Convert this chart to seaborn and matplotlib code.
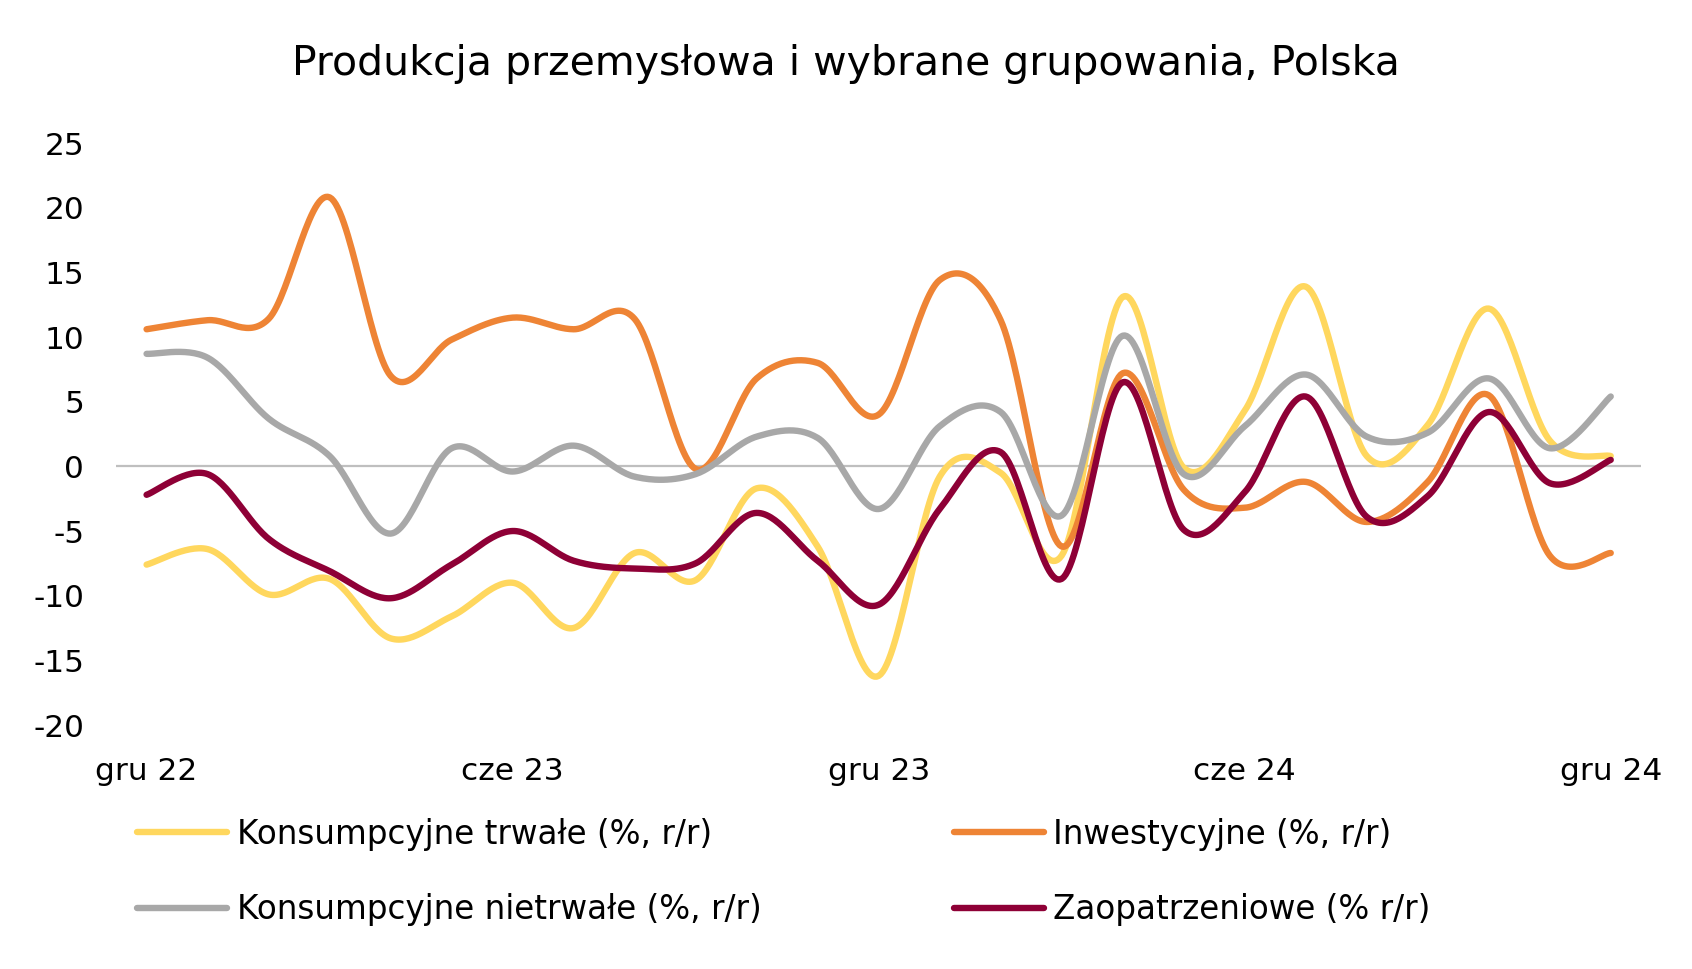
import numpy as np
import pandas as pd
import seaborn as sns
import matplotlib
matplotlib.use("Agg")
import matplotlib.pyplot as plt

# monthly data, gru 22 .. gru 24
months = list(range(25))
tick_pos = [0, 6, 12, 18, 24]
tick_labels = ["gru 22", "cze 23", "gru 23", "cze 24", "gru 24"]

trwale = [-7.6, -6.4, -9.9, -8.7, -13.3, -11.6, -9.0, -12.5, -6.7, -8.8, -1.7, -6.2, -16.2,
          -0.8, -0.5, -6.9, 13.1, -0.1, 4.3, 13.9, 0.8, 3.2, 12.2, 2.0, 0.8]
inwest = [10.6, 11.3, 11.4, 20.8, 7.0, 9.8, 11.5, 10.6, 11.4, -0.2, 6.8, 8.0, 4.0,
          14.4, 11.3, -6.2, 7.2, -1.8, -3.2, -1.2, -4.3, -1.2, 5.5, -6.9, -6.7]
nietrwale = [8.7, 8.4, 3.7, 0.8, -5.2, 1.4, -0.4, 1.6, -0.8, -0.6, 2.3, 2.2, -3.3,
             3.1, 4.2, -3.8, 10.1, -0.6, 3.1, 7.1, 2.3, 2.6, 6.8, 1.4, 5.4]
zaopatrz = [-2.2, -0.6, -5.6, -8.1, -10.2, -7.6, -5.0, -7.3, -7.9, -7.5, -3.6, -7.3, -10.7,
            -3.3, 1.1, -8.7, 6.5, -4.9, -2.0, 5.4, -3.9, -2.3, 4.2, -1.3, 0.5]

series = [
    ("Konsumpcyjne trwałe (%, r/r)", trwale, "#FFD75E"),
    ("Inwestycyjne (%, r/r)", inwest, "#EE8435"),
    ("Konsumpcyjne nietrwałe (%, r/r)", nietrwale, "#A8A8A8"),
    ("Zaopatrzeniowe (% r/r)", zaopatrz, "#8E0036"),
]


def smooth(x, y, n=30):
    # excel-like smoothed line (catmull-rom through the points)
    x = np.asarray(x, float)
    y = np.asarray(y, float)
    px = np.concatenate([[x[0]], x, [x[-1]]])
    py = np.concatenate([[y[0]], y, [y[-1]]])
    xs, ys = [], []
    t = np.linspace(0, 1, n, endpoint=False)
    for i in range(1, len(px) - 2):
        for p, out in ((px, xs), (py, ys)):
            p0, p1, p2, p3 = p[i - 1], p[i], p[i + 1], p[i + 2]
            c1 = p1 + (p2 - p0) / 6
            c2 = p2 - (p3 - p1) / 6
            out.extend((1 - t) ** 3 * p1 + 3 * (1 - t) ** 2 * t * c1
                       + 3 * (1 - t) * t ** 2 * c2 + t ** 3 * p2)
    xs.append(x[-1])
    ys.append(y[-1])
    return np.array(xs), np.array(ys)


sns.set_style("white")
plt.rcParams["font.family"] = ["DejaVu Sans"]
plt.rcParams["axes.unicode_minus"] = False
plt.rcParams["text.color"] = "black"
plt.rcParams["xtick.color"] = "black"
plt.rcParams["ytick.color"] = "black"

fig = plt.figure(figsize=(16.92, 9.69), dpi=100)
ax = fig.add_axes([0.0686, 0.2518, 0.9014, 0.6006])

ax.axhline(0, color="#BFBFBF", lw=1.6, zorder=1)

handles = []
for name, vals, col in series:
    sx, sy = smooth(months, vals)
    sns.lineplot(x=sx, y=sy, ax=ax, color=col, lw=4.6, sort=False,
                 solid_capstyle="round", zorder=2)
    handles.append(plt.Line2D([], [], color=col, lw=4.6, solid_capstyle="round", label=name))

ax.set_xlim(-0.5, 24.5)
ax.set_ylim(-20, 25)
ax.set_yticks(range(-20, 30, 5))
ax.set_xticks(tick_pos)
ax.set_xticklabels(tick_labels)
ax.tick_params(axis="both", labelsize=22.5, length=0)
ax.tick_params(axis="x", pad=23)
ax.tick_params(axis="y", pad=23)
for s in ax.spines.values():
    s.set_visible(False)

fig.suptitle("Produkcja przemysłowa i wybrane grupowania, Polska", fontsize=29.5, y=0.955)

order = [0, 2, 1, 3]
fig.legend(handles=[handles[i] for i in order], loc="upper left", ncol=2,
           bbox_to_anchor=(0.081, 0.156), frameon=False, fontsize=23.5,
           borderpad=0, borderaxespad=0,
           handlelength=2.75, handletextpad=0.3, columnspacing=5.9, labelspacing=1.3)

fig.savefig("out.png", dpi=100)
